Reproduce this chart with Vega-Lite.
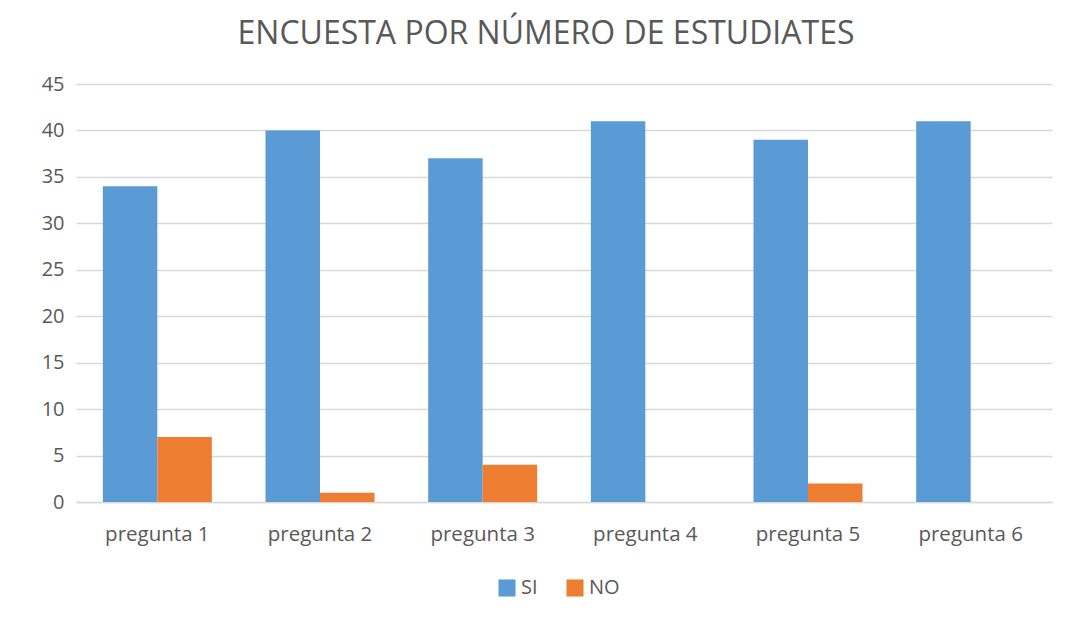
{
  "$schema": "https://vega.github.io/schema/vega-lite/v6.json",
  "width": 976,
  "height": 418,
  "autosize": {"type": "none"},
  "padding": {"left": 76, "top": 84, "right": 28, "bottom": 115},
  "background": "white",
  "config": {
    "font": "Open Sans",
    "view": {"stroke": null}
  },
  "title": {
    "text": "ENCUESTA POR NÚMERO DE ESTUDIATES",
    "fontSize": 32,
    "fontWeight": "normal",
    "color": "#595959",
    "anchor": "middle",
    "dx": -18,
    "offset": 23
  },
  "data": {
    "values": [
      {"pregunta": "pregunta 1", "respuesta": "SI", "valor": 34},
      {"pregunta": "pregunta 1", "respuesta": "NO", "valor": 7},
      {"pregunta": "pregunta 2", "respuesta": "SI", "valor": 40},
      {"pregunta": "pregunta 2", "respuesta": "NO", "valor": 1},
      {"pregunta": "pregunta 3", "respuesta": "SI", "valor": 37},
      {"pregunta": "pregunta 3", "respuesta": "NO", "valor": 4},
      {"pregunta": "pregunta 4", "respuesta": "SI", "valor": 41},
      {"pregunta": "pregunta 4", "respuesta": "NO", "valor": 0},
      {"pregunta": "pregunta 5", "respuesta": "SI", "valor": 39},
      {"pregunta": "pregunta 5", "respuesta": "NO", "valor": 2},
      {"pregunta": "pregunta 6", "respuesta": "SI", "valor": 41},
      {"pregunta": "pregunta 6", "respuesta": "NO", "valor": 0}
    ]
  },
  "mark": {"type": "bar"},
  "encoding": {
    "x": {
      "field": "pregunta",
      "type": "nominal",
      "title": null,
      "scale": {"paddingInner": 0.33, "paddingOuter": 0.165},
      "axis": {
        "labelAngle": 0,
        "labelFontSize": 20.5,
        "labelColor": "#595959",
        "labelPadding": 22,
        "ticks": false,
        "domainColor": "#D9D9D9",
        "domainWidth": 1.5
      }
    },
    "xOffset": {
      "field": "respuesta",
      "type": "nominal",
      "sort": ["SI", "NO"],
      "scale": {"paddingInner": 0, "paddingOuter": 0}
    },
    "y": {
      "field": "valor",
      "type": "quantitative",
      "title": null,
      "scale": {"domain": [0, 45], "nice": false},
      "axis": {
        "values": [0, 5, 10, 15, 20, 25, 30, 35, 40, 45],
        "labelFontSize": 20,
        "labelColor": "#595959",
        "labelPadding": 12,
        "ticks": false,
        "domain": false,
        "gridColor": "#D9D9D9",
        "gridWidth": 1.5
      }
    },
    "color": {
      "field": "respuesta",
      "type": "nominal",
      "sort": ["SI", "NO"],
      "scale": {"domain": ["SI", "NO"], "range": ["#5B9BD5", "#ED7D31"]},
      "legend": {
        "title": null,
        "orient": "none",
        "legendX": 421,
        "legendY": 494,
        "direction": "horizontal",
        "symbolType": "square",
        "symbolSize": 290,
        "symbolStrokeWidth": 0,
        "symbolOffset": 0,
        "labelFontSize": 20,
        "labelColor": "#595959",
        "labelOffset": 4,
        "columnPadding": 27
      }
    }
  }
}
